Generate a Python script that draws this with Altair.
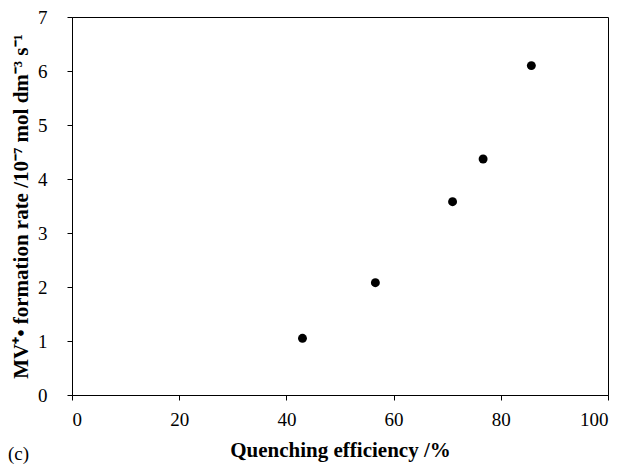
import altair as alt
import pandas as pd

quench = [43.0, 56.6, 71.0, 76.7, 85.7]
rate = [1.05, 2.08, 3.58, 4.37, 6.10]

df = pd.DataFrame({"q": quench, "r": rate})

FONT = "Liberation Serif"

chart = alt.Chart(df).mark_circle(size=80, color="black", opacity=1).encode(
    x=alt.X("q:Q", scale=alt.Scale(domain=[0, 100], nice=False),
            axis=alt.Axis(values=[0, 20, 40, 60, 80, 100], title="Quenching efficiency /%",
                          labelPadding=10, titlePadding=10)),
    y=alt.Y("r:Q", scale=alt.Scale(domain=[0, 7], nice=False),
            axis=alt.Axis(values=[0, 1, 2, 3, 4, 5, 6, 7],
                          title="MV⁺• formation rate /10⁻⁷ mol dm⁻³ s⁻¹",
                          labelPadding=20, titlePadding=6)),
).properties(
    width=536, height=378,
    padding={"left": 64, "top": 9, "right": 10, "bottom": 69},
    autosize=alt.AutoSizeParams(type="none"),
    title=alt.TitleParams("(c)", orient="bottom", anchor="start", frame="group",
                          dx=-64, offset=-15, font=FONT, fontSize=19,
                          fontWeight="normal", color="black"),
).configure_view(
    stroke="black", strokeWidth=1
).configure_axis(
    grid=False, domainColor="black", tickColor="black", tickSize=5,
    labelFont=FONT, labelFontSize=19, labelColor="black",
    titleFont=FONT, titleFontSize=21, titleFontWeight="bold", titleColor="black",
    domainWidth=1, tickWidth=1,
)

chart.save("out.html", embed_options={"renderer": "svg", "actions": False})
